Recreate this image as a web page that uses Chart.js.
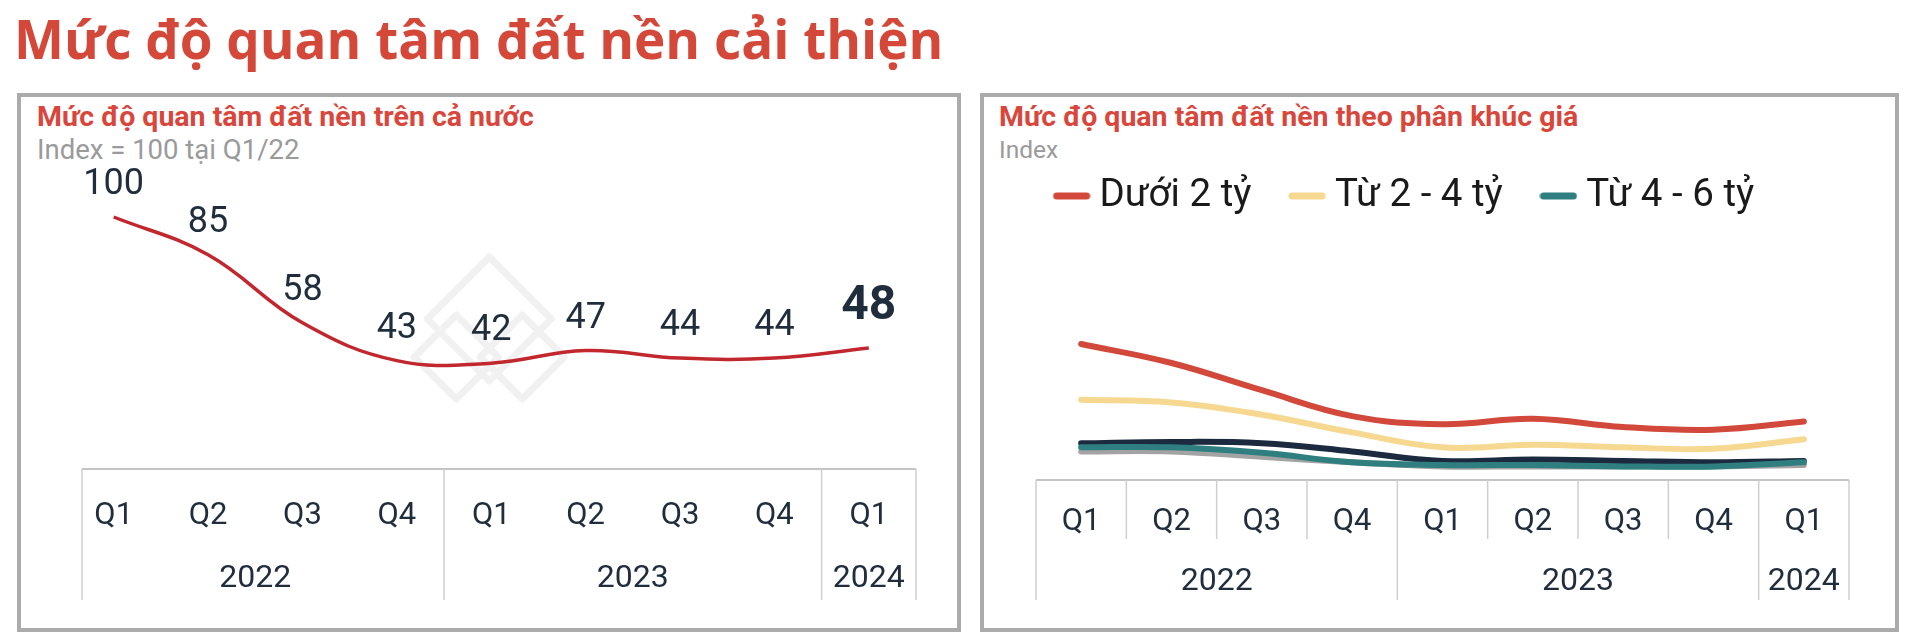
<!DOCTYPE html>
<html><head><meta charset="utf-8">
<script src="https://cdn.jsdelivr.net/npm/chart.js@4.4.1/dist/chart.umd.min.js"></script>
<style>
html,body{margin:0;padding:0;background:#fff;width:1920px;height:637px;overflow:hidden;font-family:Roboto,sans-serif;}
#title{position:absolute;left:14px;top:12px;font:700 53px "Open Sans";line-height:53px;color:#d4483a;white-space:nowrap;}
.panel{position:absolute;top:93px;height:539px;box-sizing:border-box;border:4px solid #ababab;}
#p1{left:17px;width:944px;}
#p2{left:980px;width:919px;}
.sub{position:absolute;top:103px;font:700 28.5px Roboto;line-height:28.5px;color:#d9463b;white-space:nowrap;}
.note{position:absolute;top:137px;font:400 26px Roboto;line-height:26px;color:#9a9a9a;white-space:nowrap;}
canvas{position:absolute;}
</style></head>
<body>
<div id="title">Mức độ quan tâm đất nền cải thiện</div>
<div class="panel" id="p1"></div>
<div class="panel" id="p2"></div>
<div class="sub" style="left:37px">Mức độ quan tâm đất nền trên cả nước</div>
<div class="note" style="left:37px;font-size:27.5px">Index = 100 tại Q1/22</div>
<div class="sub" style="left:999px">Mức độ quan tâm đất nền theo phân khúc giá</div>
<div class="note" style="left:999px;font-size:24.5px">Index</div>
<canvas id="c1" width="944" height="540" style="left:15px;top:93px"></canvas>
<canvas id="c2" width="914" height="540" style="left:982px;top:93px"></canvas>
<script>
// ---- data ----
const quarters = ['Q1','Q2','Q3','Q4','Q1','Q2','Q3','Q4','Q1'];
const years = ['2022','2022','2022','2022','2023','2023','2023','2023','2024'];
const nationalIndex = [100,85,58,43,42,47,44,44,48];
const seriesNames = ['Dưới 2 tỷ','Từ 2 - 4 tỷ','Từ 4 - 6 tỷ','',''];
const under2 = [100,86,66,47,41,45,39,37,43];
const from2to4 = [59,57,48,35,24,26,24,23,30];
const from4to6 = [24,24,20,13,11,11,10,10,13];
const seriesNavy = [27,28,27,21,14,15,14,13,14];
const seriesGray = [21,21,17,13,10,10,10,10,11];

const TEXT = '#1f2d3d';
Chart.defaults.font.family = 'Roboto';

function axisBox(opts){
  return {
    id:'axisBox',
    afterDraw(chart){
      const {ctx, chartArea, scales:{x}} = chart;
      const n = quarters.length;
      const w = x.getPixelForValue(1) - x.getPixelForValue(0);
      const top = chartArea.bottom;
      const bottom = top + opts.height;
      const left = x.getPixelForValue(0) - w/2 + opts.leftInset;
      const right = x.getPixelForValue(n-1) + w/2;
      ctx.save();
      ctx.strokeStyle = '#c4c4c4';
      ctx.lineWidth = 2;
      ctx.beginPath(); ctx.moveTo(left, top); ctx.lineTo(right, top); ctx.stroke();
      ctx.lineWidth = 1.5;
      ctx.strokeStyle = '#cfcfcf';
      ctx.beginPath(); ctx.moveTo(left, top); ctx.lineTo(left, bottom); ctx.stroke();
      ctx.fillStyle = TEXT;
      ctx.font = '32px Roboto';
      ctx.textAlign = 'center'; ctx.textBaseline = 'middle';
      let start = 0;
      for (let i=1;i<=n;i++){
        if (i===n || years[i]!==years[start]){
          const xb = i===n ? right : x.getPixelForValue(i) - w/2;
          ctx.beginPath(); ctx.moveTo(xb, top); ctx.lineTo(xb, bottom); ctx.stroke();
          const cx = (x.getPixelForValue(start) + x.getPixelForValue(i-1))/2;
          ctx.fillText(years[start], cx, top + opts.yearOffset);
          start = i;
        } else if (opts.quarterSep) {
          const xb = x.getPixelForValue(i) - w/2;
          ctx.beginPath(); ctx.moveTo(xb, top); ctx.lineTo(xb, top + opts.quarterSep); ctx.stroke();
        }
      }
      ctx.restore();
    }
  };
}

const watermark = {
  id:'watermark',
  beforeDatasetsDraw(chart){
    const {ctx, scales:{x}, chartArea} = chart;
    const cx = x.getPixelForValue(4) - 2;
    const cy = chartArea.bottom - 150;
    ctx.save();
    ctx.strokeStyle = '#f1f1f1';
    ctx.lineWidth = 7; ctx.lineJoin = 'round';
    const dia = (px,py,h)=>{ ctx.beginPath(); ctx.moveTo(px,py-h); ctx.lineTo(px+h,py); ctx.lineTo(px,py+h); ctx.lineTo(px-h,py); ctx.closePath(); ctx.stroke(); };
    dia(cx, cy, 62);
    dia(cx-33, cy+38, 42);
    dia(cx+33, cy+38, 42);
    ctx.restore();
  }
};

const labelPlugin = {
  id:'valueLabels',
  afterDatasetsDraw(chart){
    const {ctx} = chart;
    const meta = chart.getDatasetMeta(0);
    ctx.save();
    ctx.fillStyle = TEXT;
    ctx.textAlign = 'center'; ctx.textBaseline = 'middle';
    meta.data.forEach((pt,i)=>{
      const last = i === meta.data.length-1;
      ctx.font = last ? 'bold 48px Roboto' : '36px Roboto';
      ctx.fillText(String(nationalIndex[i]), pt.x, pt.y - (last ? 41 : 32));
    });
    ctx.restore();
  }
};

new Chart(document.getElementById('c1'), {
  type:'line',
  data:{labels:quarters, datasets:[{label:'Mức độ quan tâm', data:nationalIndex, borderColor:'#c1272d', borderWidth:3.5, tension:0.4, pointRadius:0, fill:false}]},
  options:{
    responsive:false, animation:false, devicePixelRatio:1, events:[],
    layout:{padding:{left:51.5,right:43,top:48.4,bottom:74}},
    plugins:{legend:{display:false}, tooltip:{enabled:false}},
    scales:{
      x:{offset:true, grid:{display:false, drawTicks:false}, border:{display:false},
         ticks:{color:TEXT, font:{size:31}, padding:29, autoSkip:false, maxRotation:0},
         afterFit(s){ s.height = 90; }},
      y:{display:false, min:0, max:130}
    }
  },
  plugins:[watermark, axisBox({height:131, leftInset:15.5, yearOffset:110, quarterSep:0}), labelPlugin]
});

const colors = ['#d2493b','#f6d891','#2f7f80','#1b2a3f','#a3a3a3'];
const allSeries = [under2, from2to4, from4to6, seriesNavy, seriesGray];
function legendMark(color){
  const c = document.createElement('canvas');
  c.width = 38; c.height = 10;
  const g = c.getContext('2d');
  g.strokeStyle = color; g.lineWidth = 7; g.lineCap = 'round';
  g.beginPath(); g.moveTo(4,5); g.lineTo(34,5); g.stroke();
  return c;
}
new Chart(document.getElementById('c2'), {
  type:'line',
  data:{labels:quarters, datasets: allSeries.map((d,i)=>({label:seriesNames[i], data:d, borderColor:colors[i], backgroundColor:colors[i], borderWidth:6, tension:0.4, pointRadius:0, pointStyle:legendMark(colors[i]), fill:false, borderCapStyle:'round'}))},
  options:{
    responsive:false, animation:false, devicePixelRatio:1, events:[],
    layout:{padding:{left:34,right:47,top:36.75,bottom:73}},
    plugins:{
      tooltip:{enabled:false},
      legend:{position:'top', align:'start',
        labels:{usePointStyle:true, pointStyleWidth:17.2, padding:47, color:'#1a1a1a', font:{size:38.5},
          filter:(item)=>item.datasetIndex<3}}
    },
    scales:{
      x:{offset:true, grid:{display:false, drawTicks:false}, border:{display:false},
         ticks:{color:TEXT, font:{size:31}, padding:24, autoSkip:false, maxRotation:0},
         afterFit(s){ s.height = 80; }},
      y:{min:0, max:187.3, grid:{display:false, drawTicks:false}, border:{display:false}, ticks:{display:false},
         afterFit(s){ s.width = 20; }}
    }
  },
  plugins:[axisBox({height:120, leftInset:0, yearOffset:102, quarterSep:59})]
});
</script>
</body></html>
